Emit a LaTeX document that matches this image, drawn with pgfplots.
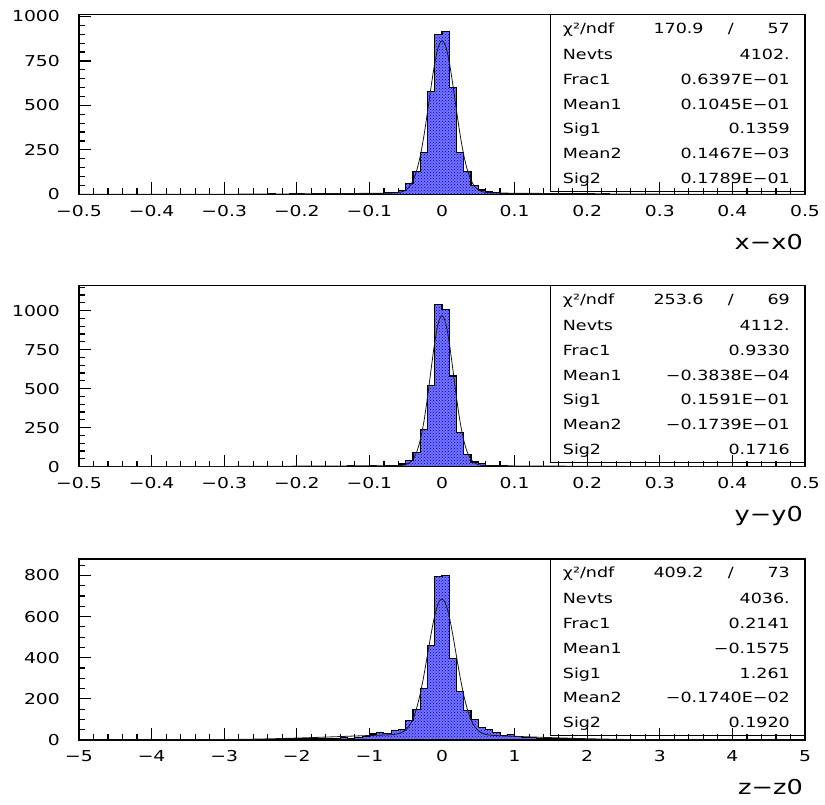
\documentclass[border=0pt]{standalone}
\usepackage{fontspec}
\setmainfont{DejaVu Sans}[FakeStretch=1.25]
\usepackage{pgfplots}
\pgfplotsset{compat=1.18}
\usetikzlibrary{patterns}
\newcommand{\sbf}{\fontsize{14}{16}\selectfont}
\newcommand{\statbox}[9]{%
  \draw[line width=1pt] (550pt,#1pt-176.7pt) rectangle (805pt,#1pt);
  \node[anchor=base west,inner sep=0pt,font=\sbf] at (562.7pt,#1pt-18.5pt) {χ²/ndf};
  \node[anchor=base west,inner sep=0pt,font=\sbf] at (653.3pt,#1pt-18.5pt) {#2};
  \node[anchor=base,inner sep=0pt,font=\sbf] at (730.7pt,#1pt-18.5pt) {/};
  \node[anchor=base east,inner sep=0pt,font=\sbf] at (790pt,#1pt-18.5pt) {#3};
  \node[anchor=base west,inner sep=0pt,font=\sbf] at (562.7pt,#1pt-45pt) {Nevts};
  \node[anchor=base east,inner sep=0pt,font=\sbf] at (790pt,#1pt-45pt) {#4};
  \node[anchor=base west,inner sep=0pt,font=\sbf] at (562.7pt,#1pt-69.7pt) {Frac1};
  \node[anchor=base east,inner sep=0pt,font=\sbf] at (790pt,#1pt-69.7pt) {#5};
  \node[anchor=base west,inner sep=0pt,font=\sbf] at (562.7pt,#1pt-94.4pt) {Mean1};
  \node[anchor=base east,inner sep=0pt,font=\sbf] at (790pt,#1pt-94.4pt) {#6};
  \node[anchor=base west,inner sep=0pt,font=\sbf] at (562.7pt,#1pt-119.1pt) {Sig1};
  \node[anchor=base east,inner sep=0pt,font=\sbf] at (790pt,#1pt-119.1pt) {#7};
  \node[anchor=base west,inner sep=0pt,font=\sbf] at (562.7pt,#1pt-143.8pt) {Mean2};
  \node[anchor=base east,inner sep=0pt,font=\sbf] at (790pt,#1pt-143.8pt) {#8};
  \node[anchor=base west,inner sep=0pt,font=\sbf] at (562.7pt,#1pt-168.5pt) {Sig2};
  \node[anchor=base east,inner sep=0pt,font=\sbf] at (790pt,#1pt-168.5pt) {#9};
}
\pgfplotsset{
  histax/.style={
    scale only axis, width=726pt, anchor=south west, ymin=0,
    axis line style={line width=1.5pt},
    tick style={line width=1.2pt, black},
    tick align=inside, tick pos=left,
    major tick length=12pt, minor tick length=6pt,
    ticklabel style={font=\fontsize{15}{17}\selectfont},
    yticklabel style={anchor=east, inner sep=0pt, xshift=-19pt},
    xticklabel style={anchor=north, inner sep=0pt, yshift=-10.5pt},
    xlabel style={at={(axis description cs:1,0)}, anchor=north east, inner sep=0pt,
      yshift=-39.5pt, xshift=-2pt, font=\fontsize{20.5}{22}\selectfont},
  },
  hist/.style={const plot mark left, fill=blue!55, draw=black, line width=1.1pt,
    postaction={pattern=crosshatch dots, pattern color=blue!90!black}},
  fit/.style={black!90, line width=0.8pt, smooth},
}
\begin{document}
\begin{tikzpicture}
\path[use as bounding box] (0,0) rectangle (825pt,804pt);
% ---------------- panel 1 ----------------
\begin{axis}[histax, at={(79pt,609.7pt)}, height=179.6pt,
  xmin=-0.5, xmax=0.5, ymax=1010,
  xtick={-0.5,-0.4,-0.3,-0.2,-0.1,0,0.1,0.2,0.3,0.4,0.5},
  xticklabels={−0.5,−0.4,−0.3,−0.2,−0.1,0,0.1,0.2,0.3,0.4,0.5},
  minor x tick num=4,
  ytick={0,250,500,750,1000}, yticklabels={0,250,500,750,1000},
  minor ytick={50,100,150,200,300,350,400,450,550,600,650,700,800,850,900,950},
  xlabel={x−x0}]
\addplot[hist] coordinates {
(-0.50,0) (-0.49,0) (-0.48,0) (-0.47,0) (-0.46,1) (-0.45,0) (-0.44,0) (-0.43,0) (-0.42,0) (-0.41,0)
(-0.40,0) (-0.39,1) (-0.38,0) (-0.37,0) (-0.36,0) (-0.35,0) (-0.34,1) (-0.33,0) (-0.32,0) (-0.31,1)
(-0.30,0) (-0.29,1) (-0.28,0) (-0.27,1) (-0.26,1) (-0.25,0) (-0.24,2) (-0.23,1) (-0.22,1) (-0.21,2)
(-0.20,2) (-0.19,1) (-0.18,3) (-0.17,2) (-0.16,3) (-0.15,2) (-0.14,4) (-0.13,3) (-0.12,4) (-0.11,4)
(-0.10,5) (-0.09,5) (-0.08,8) (-0.07,12) (-0.06,20) (-0.05,62) (-0.04,127) (-0.03,237) (-0.02,578) (-0.01,901)
(0.00,913) (0.01,601) (0.02,237) (0.03,127) (0.04,48) (0.05,24) (0.06,13) (0.07,8) (0.08,6) (0.09,5)
(0.10,4) (0.11,5) (0.12,3) (0.13,4) (0.14,3) (0.15,3) (0.16,2) (0.17,3) (0.18,2) (0.19,2)
(0.20,2) (0.21,1) (0.22,2) (0.23,1) (0.24,1) (0.25,1) (0.26,0) (0.27,1) (0.28,1) (0.29,0)
(0.30,1) (0.31,0) (0.32,0) (0.33,1) (0.34,0) (0.35,0) (0.36,0) (0.37,1) (0.38,0) (0.39,0)
(0.40,0) (0.41,0) (0.42,1) (0.43,0) (0.44,0) (0.45,0) (0.46,0) (0.47,0) (0.48,0) (0.49,0) (0.50,0)
} \closedcycle;
\addplot[fit] coordinates {
(-0.5,0.01) (-0.4,0.08) (-0.3,0.57) (-0.2,2.32) (-0.15,3.84) (-0.1,5.54) (-0.08,6.16) (-0.07,6.87)
(-0.065,7.74) (-0.06,9.74) (-0.055,14.26) (-0.05,23.82) (-0.045,42.53) (-0.04,76.19) (-0.035,131.59)
(-0.03,214.27) (-0.025,326.25) (-0.02,461.61) (-0.015,605.87) (-0.01,736.62) (-0.005,829.16)
(0,863.88) (0.005,833.0) (0.01,743.4) (0.015,614.29) (0.02,470.18) (0.025,333.96) (0.03,220.42)
(0.035,135.98) (0.04,79.12) (0.045,44.41) (0.05,25.02) (0.055,15.08) (0.06,10.39) (0.065,8.3)
(0.07,7.42) (0.08,6.76) (0.1,6.20) (0.15,4.55) (0.2,2.91) (0.3,0.80) (0.4,0.13) (0.5,0.01)
};
\end{axis}
\statbox{789.3}{170.9}{57}{4102.}{0.6397E−01}{0.1045E−01}{0.1359}{0.1467E−03}{0.1789E−01}
% ---------------- panel 2 ----------------
\begin{axis}[histax, at={(79pt,337.3pt)}, height=181pt,
  xmin=-0.5, xmax=0.5, ymax=1160,
  xtick={-0.5,-0.4,-0.3,-0.2,-0.1,0,0.1,0.2,0.3,0.4,0.5},
  xticklabels={−0.5,−0.4,−0.3,−0.2,−0.1,0,0.1,0.2,0.3,0.4,0.5},
  minor x tick num=4,
  ytick={0,250,500,750,1000}, yticklabels={0,250,500,750,1000},
  minor ytick={50,100,150,200,300,350,400,450,550,600,650,700,800,850,900,950,1050,1100,1150},
  xlabel={y−y0}]
\addplot[hist] coordinates {
(-0.50,0) (-0.49,0) (-0.48,1) (-0.47,0) (-0.46,0) (-0.45,0) (-0.44,1) (-0.43,0) (-0.42,0) (-0.41,1)
(-0.40,0) (-0.39,0) (-0.38,1) (-0.37,0) (-0.36,1) (-0.35,0) (-0.34,0) (-0.33,1) (-0.32,1) (-0.31,0)
(-0.30,1) (-0.29,2) (-0.28,1) (-0.27,1) (-0.26,2) (-0.25,2) (-0.24,1) (-0.23,3) (-0.22,2) (-0.21,2)
(-0.20,3) (-0.19,2) (-0.18,3) (-0.17,4) (-0.16,3) (-0.15,4) (-0.14,3) (-0.13,5) (-0.12,4) (-0.11,4)
(-0.10,5) (-0.09,4) (-0.08,6) (-0.07,9) (-0.06,17) (-0.05,38) (-0.04,92) (-0.03,240) (-0.02,519) (-0.01,1038)
(0.00,1009) (0.01,581) (0.02,220) (0.03,81) (0.04,30) (0.05,18) (0.06,10) (0.07,7) (0.08,5) (0.09,4)
(0.10,4) (0.11,3) (0.12,4) (0.13,3) (0.14,3) (0.15,2) (0.16,3) (0.17,2) (0.18,2) (0.19,2)
(0.20,1) (0.21,2) (0.22,1) (0.23,1) (0.24,1) (0.25,0) (0.26,1) (0.27,1) (0.28,0) (0.29,1)
(0.30,0) (0.31,1) (0.32,0) (0.33,0) (0.34,1) (0.35,0) (0.36,0) (0.37,0) (0.38,0) (0.39,1)
(0.40,0) (0.41,0) (0.42,0) (0.43,0) (0.44,0) (0.45,0) (0.46,0) (0.47,0) (0.48,0) (0.49,0) (0.50,0)
} \closedcycle;
\addplot[fit] coordinates {
(-0.5,0.12) (-0.4,0.53) (-0.3,1.65) (-0.2,3.63) (-0.15,4.75) (-0.1,5.70) (-0.08,5.99) (-0.065,6.38)
(-0.06,7.00) (-0.055,8.72) (-0.05,13.24) (-0.045,24.06) (-0.04,47.39) (-0.035,92.37) (-0.03,169.69)
(-0.025,287.30) (-0.02,444.30) (-0.015,624.70) (-0.01,797.10) (-0.005,922.70) (0,968.37)
(0.005,921.25) (0.01,794.72) (0.015,621.79) (0.02,441.46) (0.025,284.97) (0.03,167.97) (0.035,91.21)
(0.04,46.61) (0.045,23.50) (0.05,12.77) (0.055,8.28) (0.06,6.57) (0.065,5.93) (0.08,5.45) (0.1,5.07)
(0.15,3.98) (0.2,2.87) (0.3,1.16) (0.4,0.33) (0.5,0.07)
};
\end{axis}
\statbox{518.3}{253.6}{69}{4112.}{0.9330}{−0.3838E−04}{0.1591E−01}{−0.1739E−01}{0.1716}
% ---------------- panel 3 ----------------
\begin{axis}[histax, at={(79pt,64pt)}, height=181pt,
  xmin=-5, xmax=5, ymax=880,
  xtick={-5,-4,-3,-2,-1,0,1,2,3,4,5},
  xticklabels={−5,−4,−3,−2,−1,0,1,2,3,4,5},
  minor x tick num=4,
  ytick={0,200,400,600,800}, yticklabels={0,200,400,600,800},
  minor ytick={50,100,150,250,300,350,450,500,550,650,700,750,850},
  xlabel={z−z0}]
\addplot[hist] coordinates {
(-5.0,0) (-4.9,0) (-4.8,1) (-4.7,0) (-4.6,0) (-4.5,0) (-4.4,1) (-4.3,0) (-4.2,0) (-4.1,1)
(-4.0,0) (-3.9,1) (-3.8,0) (-3.7,1) (-3.6,1) (-3.5,0) (-3.4,2) (-3.3,1) (-3.2,1) (-3.1,2)
(-3.0,2) (-2.9,1) (-2.8,3) (-2.7,2) (-2.6,3) (-2.5,4) (-2.4,3) (-2.3,4) (-2.2,5) (-2.1,5)
(-2.0,6) (-1.9,5) (-1.8,7) (-1.7,8) (-1.6,7) (-1.5,9) (-1.4,10) (-1.3,9) (-1.2,12) (-1.1,16)
(-1.0,29) (-0.9,37) (-0.8,33) (-0.7,45) (-0.6,50) (-0.5,97) (-0.4,149) (-0.3,251) (-0.2,460) (-0.1,793)
(0.0,798) (0.1,397) (0.2,235) (0.3,145) (0.4,100) (0.5,60) (0.6,49) (0.7,38) (0.8,24) (0.9,26)
(1.0,16) (1.1,12) (1.2,10) (1.3,9) (1.4,8) (1.5,8) (1.6,6) (1.7,6) (1.8,5) (1.9,4)
(2.0,4) (2.1,3) (2.2,3) (2.3,2) (2.4,3) (2.5,2) (2.6,1) (2.7,2) (2.8,1) (2.9,1)
(3.0,1) (3.1,0) (3.2,1) (3.3,1) (3.4,0) (3.5,0) (3.6,1) (3.7,0) (3.8,0) (3.9,0)
(4.0,1) (4.1,0) (4.2,0) (4.3,0) (4.4,0) (4.5,1) (4.6,0) (4.7,0) (4.8,0) (4.9,0) (5.0,0)
} \closedcycle;
\addplot[fit] coordinates {
(-5,0.02) (-4,0.26) (-3,2.16) (-2.5,4.87) (-2,9.40) (-1.5,15.51) (-1.2,19.43) (-1,21.87) (-0.8,24.13)
(-0.7,25.80) (-0.65,27.5) (-0.6,30.85) (-0.55,37.3) (-0.5,49.08) (-0.45,69.80) (-0.4,103.50)
(-0.35,154.22) (-0.3,224.36) (-0.25,312.97) (-0.2,414.02) (-0.15,516.54) (-0.1,605.41)
(-0.05,665.84) (0,686.16) (0.05,662.57) (0.1,599.47) (0.15,508.84) (0.2,405.76) (0.25,304.95)
(0.3,217.30) (0.35,148.31) (0.4,98.62) (0.45,65.74) (0.5,45.55) (0.55,34.0) (0.6,27.68) (0.65,24.4)
(0.7,22.53) (0.8,20.60) (1,17.94) (1.2,15.32) (1.5,11.53) (2,6.33) (2.5,2.97) (3,1.19) (4,0.12) (5,0.01)
};
\end{axis}
\statbox{245}{409.2}{73}{4036.}{0.2141}{−0.1575}{1.261}{−0.1740E−02}{0.1920}
\end{tikzpicture}
\end{document}
